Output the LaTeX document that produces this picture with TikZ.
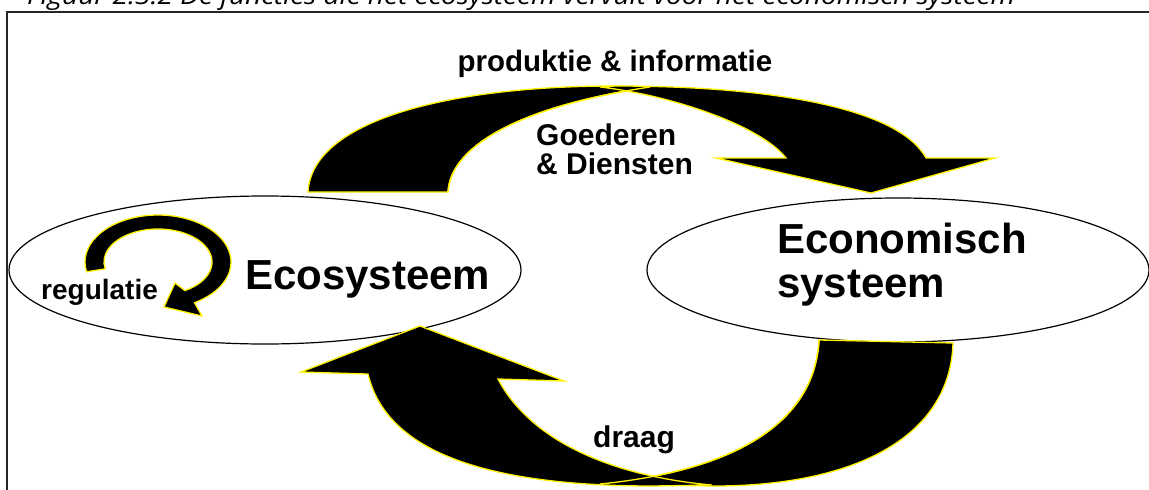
\documentclass[tikz,border=0pt]{standalone}
\usepackage{fontspec}
\usepackage{graphicx}
\setmainfont{Liberation Sans}
\newfontfamily\capfont{Open Sans}
\usetikzlibrary{shapes.geometric}
\begin{document}
\begin{tikzpicture}[x=1pt,y=-1pt,
  bubble/.style={ellipse, draw=black, line width=1.2pt, fill=white, inner sep=0pt},
  band/.style={fill=black, draw=yellow, line width=1.3pt, line join=miter},
  yedge/.style={draw=yellow, line width=1.3pt},
  lbl/.style={font=\bfseries\fontsize{30}{30}\selectfont, inner sep=0pt, anchor=base west},
  big/.style={font=\bfseries\fontsize{42}{42}\selectfont, inner sep=0pt, anchor=base west},
  frame/.style={line width=2pt, draw=black!85},
]
\useasboundingbox (0,0) rectangle (1149,490);
\clip (0,0) rectangle (1149,490);

% caption (cut off at top, as in the reference)
\node[anchor=base west, inner sep=0pt, font=\capfont\itshape\fontsize{25}{25}\selectfont] (caption) at (27,4)
  {\scalebox{1.12}[1]{Figuur 2.3.2 De functies die het ecosysteem vervult voor het economisch systeem}};

% frame
\draw[frame] (7,492) -- (7,12) -- (1151,12);

% ellipses
\node[bubble, minimum width=512pt, minimum height=148pt] (eco) at (265,270) {};
\node[bubble, minimum width=502pt, minimum height=144pt] (econ) at (898,270) {};

% top arrow: back band
\filldraw[band] (308,192) .. controls (312,120) and (450,86) .. (615,86) -- (650,87)
  .. controls (510,108) and (450,150) .. (448,192) -- cycle;
% top arrow: front band with head
\filldraw[band] (600,87) -- (615,86) .. controls (780,86) and (900,110) .. (926,158)
  -- (995,158) -- (871,193) -- (716,158) -- (786,158)
  .. controls (760,125) and (670,95) .. (600,87) -- cycle;
\draw[yedge] (448,192) .. controls (450,150) and (510,108) .. (650,87);

% bottom arrow: back band
\filldraw[band] (819,340) -- (953,343) .. controls (950,440) and (850,486) .. (714,486)
  -- (600,484) .. controls (740,470) and (815,420) .. (819,340) -- cycle;
% bottom arrow: front band with head
\filldraw[band] (653,486) .. controls (470,486) and (385,445) .. (368,374)
  -- (301,372) -- (420,326) -- (564,381) -- (498,379)
  .. controls (530,440) and (610,476) .. (712,485) -- cycle;
\draw[yedge] (819,340) .. controls (815,420) and (740,470) .. (600,484);

% regulation circular arrow
\filldraw[band] (158,262) ++(-192:73 and 47)
  arc[start angle=-192, end angle=60, x radius=73, y radius=47]
  -- (202,316) -- (164,307) -- (175,283) -- (185,290.58)
  arc[start angle=60, end angle=-192, x radius=54, y radius=33] -- cycle;

% labels
\node[lbl, anchor=base, font=\bfseries\fontsize{29.5}{30}\selectfont] (prod) at (615,71) {produktie \& informatie};
\node[lbl] (goed) at (536,145) {Goederen};
\node[lbl] (dien) at (536,174) {\& Diensten};
\node[big] (ecolbl) at (245,289) {Ecosysteem};
\node[big] (econlbl1) at (777,253) {Economisch};
\node[big] (econlbl2) at (777,297) {systeem};
\node[lbl, font=\bfseries\fontsize{28}{28}\selectfont] (reg) at (41,299) {regulatie};
\node[lbl] (draag) at (593,447) {draag};
\end{tikzpicture}
\end{document}
